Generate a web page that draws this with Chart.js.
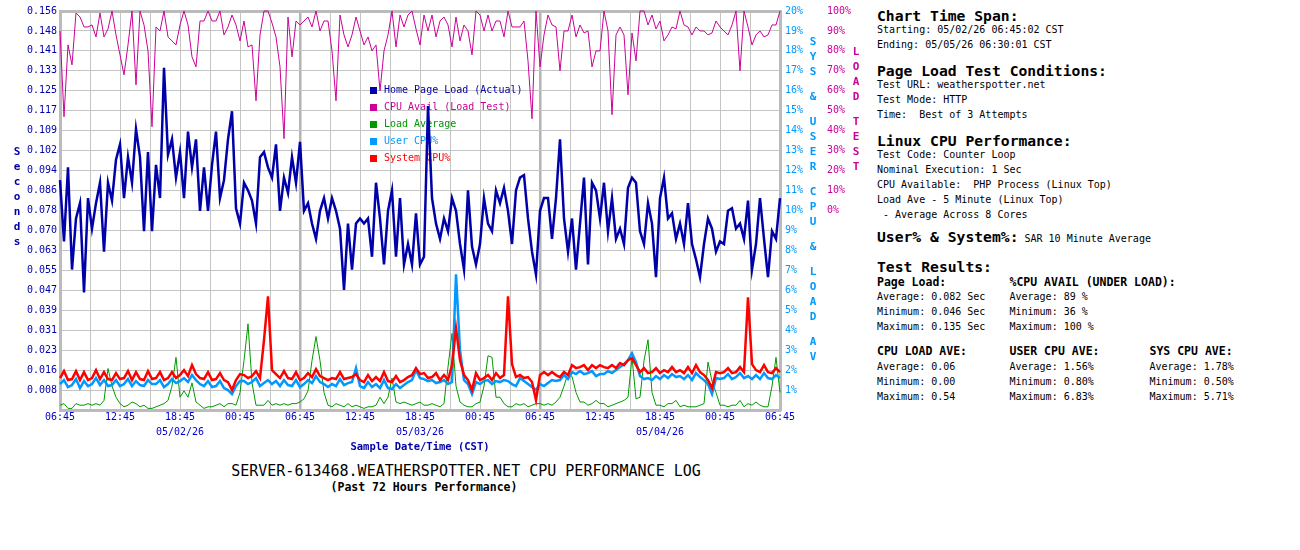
<!DOCTYPE html>
<html><head><meta charset="utf-8">
<script src="https://cdn.jsdelivr.net/npm/chart.js@4.4.1/dist/chart.umd.min.js"></script>
<style>
html,body{margin:0;padding:0;background:#fff;}
body{width:1300px;height:550px;position:relative;overflow:hidden;font-family:"DejaVu Sans Mono",monospace;}
#c{position:absolute;left:0;top:0;}
.t{position:absolute;white-space:pre;line-height:1;color:#000;}
.h{font-size:14.7px;font-weight:bold;}
.n{font-size:10px;font-weight:normal;}
.b{font-size:11.5px;font-weight:bold;}
.ttl{position:absolute;white-space:pre;line-height:1;text-align:center;width:700px;color:#000;}
</style></head><body>
<canvas id="c" width="870" height="460"></canvas>

<div class="t h" style="left:877px;top:9px">Chart Time Span:</div>
<div class="t n" style="left:877px;top:25px">Starting: 05/02/26 06:45:02 CST</div>
<div class="t n" style="left:877px;top:40px">Ending: 05/05/26 06:30:01 CST</div>
<div class="t h" style="left:877px;top:64px">Page Load Test Conditions:</div>
<div class="t n" style="left:877px;top:80px">Test URL: weatherspotter.net</div>
<div class="t n" style="left:877px;top:95px">Test Mode: HTTP</div>
<div class="t n" style="left:877px;top:110px">Time:  Best of 3 Attempts</div>
<div class="t h" style="left:877px;top:134px">Linux CPU Performance:</div>
<div class="t n" style="left:877px;top:150px">Test Code: Counter Loop</div>
<div class="t n" style="left:877px;top:165px">Nominal Execution: 1 Sec</div>
<div class="t n" style="left:877px;top:180px">CPU Available:  PHP Process (Linux Top)</div>
<div class="t n" style="left:877px;top:195px">Load Ave - 5 Minute (Linux Top)</div>
<div class="t n" style="left:877px;top:210px"> - Average Across 8 Cores</div>
<div class="t h" style="left:877px;top:230px">User% &amp; System%:<span class="n"> SAR 10 Minute Average</span></div>
<div class="t h" style="left:877px;top:260px">Test Results:</div>
<div class="t b" style="left:877px;top:276.5px">Page Load:</div>
<div class="t b" style="left:1009.5px;top:276.5px">%CPU AVAIL (UNDER LOAD):</div>
<div class="t n" style="left:877px;top:292px">Average: 0.082 Sec</div>
<div class="t n" style="left:877px;top:307px">Minimum: 0.046 Sec</div>
<div class="t n" style="left:877px;top:322px">Maximum: 0.135 Sec</div>
<div class="t n" style="left:1009.5px;top:292px">Average: 89 %</div>
<div class="t n" style="left:1009.5px;top:307px">Minimum: 36 %</div>
<div class="t n" style="left:1009.5px;top:322px">Maximum: 100 %</div>
<div class="t b" style="left:877px;top:345.5px">CPU LOAD AVE:</div>
<div class="t b" style="left:1009.5px;top:345.5px">USER CPU AVE:</div>
<div class="t b" style="left:1149.5px;top:345.5px">SYS CPU AVE:</div>
<div class="t n" style="left:877px;top:362px">Average: 0.06</div>
<div class="t n" style="left:877px;top:377px">Minimum: 0.00</div>
<div class="t n" style="left:877px;top:392px">Maximum: 0.54</div>
<div class="t n" style="left:1009.5px;top:362px">Average: 1.56%</div>
<div class="t n" style="left:1009.5px;top:377px">Minimum: 0.80%</div>
<div class="t n" style="left:1009.5px;top:392px">Maximum: 6.83%</div>
<div class="t n" style="left:1149.5px;top:362px">Average: 1.78%</div>
<div class="t n" style="left:1149.5px;top:377px">Minimum: 0.50%</div>
<div class="t n" style="left:1149.5px;top:392px">Maximum: 5.71%</div>

<div class="ttl" style="left:116px;top:463.5px;font-size:15px;">SERVER-613468.WEATHERSPOTTER.NET CPU PERFORMANCE LOG</div>
<div class="ttl" style="left:74px;top:481.5px;font-size:11.5px;font-weight:bold;">(Past 72 Hours Performance)</div>

<script>
// ---- data ----
const sampleStepHours = 0.4; // one sample every 24 minutes, 72 hours total

const timeTicks = ['06:45','12:45','18:45','00:45','06:45','12:45','18:45','00:45','06:45','12:45','18:45','00:45','06:45'];
const dateTicks = ['','','05/02/26','','','','05/03/26','','','','05/04/26','',''];
const secondsTickLabels = ['','0.008','0.016','0.023','0.031','0.039','0.047','0.055','0.063','0.070','0.078','0.086','0.094','0.102','0.109','0.117','0.125','0.133','0.141','0.148','0.156'];
const pctTickLabels = ['','1%','2%','3%','4%','5%','6%','7%','8%','9%','10%','11%','12%','13%','14%','15%','16%','17%','18%','19%','20%'];
const availTickLabels = ['0%','10%','20%','30%','40%','50%','60%','70%','80%','90%','100%'];

const pageLoad = [
0.090,0.066,0.095,0.055,0.075,0.081,0.046,0.083,0.071,0.081,
0.089,0.062,0.089,0.082,0.098,0.104,0.083,0.099,0.089,0.110,
0.099,0.070,0.101,0.070,0.096,0.083,0.134,0.100,0.106,0.091,
0.101,0.083,0.109,0.095,0.106,0.078,0.095,0.078,0.096,0.109,
0.083,0.090,0.106,0.117,0.079,0.073,
0.089,0.086,0.082,0.073,0.099,0.101,0.095,0.091,0.104,0.078,
0.091,0.085,0.099,0.089,0.105,0.078,0.081,0.073,0.067,0.078,
0.083,0.075,0.083,0.078,0.071,0.047,0.073,0.055,0.073,0.075,
0.073,0.075,0.060,0.089,0.075,0.057,0.078,0.086,0.060,0.083,
0.057,0.065,0.057,0.077,0.057,
0.060,0.119,0.083,0.073,0.067,0.075,0.070,0.083,0.078,0.065,
0.055,0.086,0.064,0.057,0.065,0.083,0.073,0.070,0.086,0.081,
0.087,0.078,0.065,0.086,0.091,0.092,0.075,0.062,0.053,0.078,
0.083,0.083,0.067,0.083,0.106,0.075,0.062,0.075,0.055,0.073,
0.091,0.057,0.089,0.086,0.075,
0.089,0.070,0.083,0.067,0.071,0.065,0.087,0.091,0.089,0.070,
0.065,0.081,0.073,0.052,0.083,0.091,0.075,0.077,0.067,0.073,
0.065,0.081,0.065,0.059,0.052,0.065,0.075,0.071,0.062,0.066,
0.065,0.078,0.079,0.071,0.073,0.067,0.082,0.055,0.065,0.083,
0.067,0.052,0.070,0.067,0.083];

const cpuAvail = [
90,47,83,73,99,97,92,92,93,87,
99,87,91,100,88,78,68,83,100,63,
100,93,80,42,92,90,100,87,85,83,
93,100,93,77,72,95,95,100,95,95,
100,88,92,98,93,85,
95,82,83,55,88,100,100,94,87,72,
36,97,77,95,93,95,97,92,100,90,
95,95,80,55,98,88,82,88,97,90,
83,87,80,83,60,80,88,100,82,98,
92,98,100,91,83,
98,90,98,87,95,97,93,82,97,85,
93,90,78,100,98,90,98,90,95,95,
87,100,92,92,92,95,75,46,100,72,
88,98,93,92,70,90,90,98,87,93,
89,90,72,80,80,
100,90,48,88,92,88,58,89,75,100,
100,93,98,91,95,85,88,92,91,100,
93,92,88,92,90,90,88,89,95,92,
90,88,93,100,70,100,92,83,88,90,
87,88,93,93,100];

const loadAvg = [
0.03,0.04,0.01,0.01,0.04,0.03,0.03,0.04,0.03,0.04,
0.03,0.06,0.26,0.15,0.08,0.04,0.02,0.03,0.05,0.04,
0.02,0.03,0.01,0.01,0.02,0.03,0.04,0.06,0.15,0.33,
0.08,0.12,0.08,0.17,0.05,0.03,0.01,0.02,0.02,0.03,
0.04,0.02,0.04,0.04,0.03,0.11,
0.31,0.54,0.17,0.03,0.03,0.03,0.06,0.03,0.04,0.03,
0.04,0.03,0.04,0.04,0.05,0.07,0.12,0.31,0.46,0.31,
0.11,0.03,0.02,0.04,0.03,0.02,0.04,0.02,0.03,0.02,
0.01,0.02,0.02,0.03,0.08,0.04,0.08,0.20,0.05,0.04,
0.05,0.04,0.03,0.04,0.05,
0.03,0.03,0.04,0.03,0.02,0.04,0.27,0.48,0.15,0.05,
0.03,0.02,0.02,0.04,0.05,0.15,0.34,0.33,0.08,0.08,
0.04,0.02,0.02,0.04,0.03,0.04,0.02,0.03,0.04,0.04,
0.03,0.04,0.03,0.05,0.08,0.15,0.23,0.21,0.11,0.05,
0.05,0.03,0.04,0.06,0.04,
0.04,0.02,0.03,0.04,0.05,0.06,0.08,0.33,0.07,0.08,
0.31,0.44,0.11,0.03,0.03,0.02,0.04,0.04,0.06,0.02,
0.03,0.02,0.02,0.02,0.03,0.04,0.30,0.18,0.11,0.03,
0.03,0.02,0.03,0.03,0.06,0.02,0.04,0.03,0.05,0.03,
0.02,0.02,0.15,0.33,0.11];

const userCpu = [
1.3,1.5,1.15,1.25,1.55,1.1,1.45,1.2,1.3,1.6,
1.25,1.5,1.2,1.25,1.5,1.2,1.3,1.55,1.2,1.45,
1.25,1.2,1.5,1.3,1.3,1.5,1.15,1.3,1.55,1.35,
1.45,1.6,1.4,1.75,1.5,1.3,1.2,1.45,1.15,1.2,
1.45,1.1,1.0,0.8,1.2,1.45,
1.45,1.3,1.4,1.6,1.2,1.35,1.5,1.3,1.45,1.2,
1.5,1.25,1.2,1.5,1.15,1.3,1.5,1.35,1.7,1.4,
1.3,1.15,1.3,1.2,1.55,1.25,1.35,1.4,2.1,1.2,
1.1,1.4,1.15,1.3,1.1,1.5,1.1,1.05,1.3,1.1,
1.25,1.4,1.5,2.0,1.6,
1.55,1.45,1.5,1.35,1.4,1.5,1.3,1.4,6.8,3.0,
1.5,1.3,0.8,1.4,1.3,1.45,1.5,1.3,1.45,1.4,
1.5,1.45,1.3,1.2,1.6,1.45,1.3,1.15,1.0,1.3,
1.2,1.35,1.5,1.45,1.5,1.75,1.55,1.9,1.8,1.95,
1.8,1.85,1.95,1.7,1.8,
1.8,1.95,1.85,2.0,2.15,2.3,2.5,2.85,2.4,1.7,
1.55,1.6,1.5,1.7,1.55,1.75,1.6,1.8,1.65,1.7,
1.55,1.75,1.5,1.85,1.65,1.5,1.3,0.8,1.6,1.55,
1.6,1.8,1.55,1.65,1.85,1.6,1.7,1.55,1.75,1.55,
1.85,1.6,1.55,1.75,1.6];

const sysCpu = [
1.6,1.95,1.5,1.55,1.95,1.5,1.9,1.5,1.6,2.0,
1.55,1.9,1.55,1.5,1.85,1.55,1.6,1.95,1.5,1.9,
1.55,1.5,1.95,1.55,1.6,1.9,1.5,1.6,1.9,1.6,
1.75,2.0,1.7,2.25,1.8,1.6,1.55,1.9,1.5,1.55,
1.85,1.5,1.4,1.0,1.5,1.8,
1.75,1.6,1.7,1.95,1.6,3.5,5.7,2.0,1.8,1.6,
1.95,1.6,1.55,1.9,1.5,1.6,1.85,1.65,2.05,1.7,
1.6,1.5,1.6,1.55,1.9,1.55,1.6,1.65,1.8,1.5,
1.4,1.75,1.45,1.65,1.45,1.9,1.45,1.4,1.7,1.4,
1.5,1.65,1.75,2.1,1.8,
1.85,1.6,1.65,1.85,1.5,1.75,1.5,2.25,4.1,2.5,
1.75,1.5,1.0,1.85,1.5,1.6,1.75,1.5,1.85,1.6,
1.75,5.7,2.3,1.65,1.75,1.6,1.65,1.4,0.5,1.75,
1.9,1.75,1.9,1.75,1.65,1.9,1.75,2.25,2.1,2.15,
2.25,2.0,2.25,2.1,2.25,
2.15,2.1,2.25,2.1,2.35,2.25,2.5,2.6,2.25,1.9,
2.1,1.85,1.9,2.1,1.85,2.0,1.9,2.15,1.9,2.0,
1.85,2.15,1.85,2.25,1.9,1.75,1.5,1.1,1.9,1.85,
1.9,2.1,1.85,1.9,2.15,1.9,5.65,2.3,2.0,1.9,
2.25,1.9,1.85,2.1,1.9];

// ---- chart ----
const FONT = '"DejaVu Sans Mono", monospace';
Chart.defaults.font.family = FONT;
const toPoints = arr => arr.map((v, i) => ({x: i * sampleStepHours, y: v}));

const stackedLabels = {
  id: 'stackedLabels',
  afterDraw(chart) {
    const ctx = chart.ctx;
    ctx.save();
    ctx.font = 'bold 11px ' + FONT;
    ctx.textAlign = 'center';
    ctx.textBaseline = 'middle';
    const col = (text, x, y0, color) => {
      ctx.fillStyle = color;
      let y = y0;
      for (const ch of text) {
        if (ch === ' ') { y += 10; continue; }
        ctx.fillText(ch, x, y);
        y += 15;
      }
    };
    col('Seconds', 17, 152, '#0000aa');
    col('SYS & USER CPU & LOAD AV', 813, 42, '#0099ff');
    col('LOAD TEST', 856, 52, '#cc0099');
    ctx.restore();
  }
};

const boxLegend = {
  id: 'boxLegend',
  beforeDatasetsDraw(chart) {
    const ctx = chart.ctx;
    ctx.save();
    ctx.font = '10px ' + FONT;
    ctx.textBaseline = 'middle';
    ctx.textAlign = 'left';
    chart.data.datasets.forEach((ds, i) => {
      const y = 90.5 + i * 17.1;
      ctx.fillStyle = ds.borderColor;
      ctx.fillRect(370, Math.round(y - 3.5), 7, 7);
      ctx.fillText(ds.label, 384, y);
    });
    ctx.restore();
  }
};

new Chart(document.getElementById('c'), {
  type: 'line',
  data: {
    datasets: [
      {label: 'Home Page Load (Actual)', data: toPoints(pageLoad), yAxisID: 'y', borderColor: '#0000aa', borderWidth: 2.5, order: 0},
      {label: 'CPU Avail (Load Test)', data: toPoints(cpuAvail), yAxisID: 'yAvail', borderColor: '#cc0099', borderWidth: 1, order: 4},
      {label: 'Load Average', data: toPoints(loadAvg), yAxisID: 'yLoad', borderColor: '#009900', borderWidth: 1, order: 3},
      {label: 'User CPU%', data: toPoints(userCpu), yAxisID: 'yPct', borderColor: '#0099ff', borderWidth: 2.5, order: 2},
      {label: 'System CPU%', data: toPoints(sysCpu), yAxisID: 'yPct', borderColor: '#ff0000', borderWidth: 2.5, order: 1}
    ]
  },
  options: {
    responsive: false,
    animation: false,
    devicePixelRatio: 1,
    layout: {padding: {top: 10, left: 0, right: 0, bottom: 6}},
    elements: {point: {radius: 0}, line: {tension: 0, borderJoinStyle: 'miter'}},
    datasets: {line: {clip: 2}},
    plugins: {legend: {display: false}, tooltip: {enabled: false}},
    scales: {
      x: {
        type: 'linear', min: 0, max: 72,
        afterFit: s => { s.height = 44; },
        grid: {
          drawTicks: false,
          color: ctx => (ctx.tick && (ctx.tick.value === 24 || ctx.tick.value === 48)) ? '#b4b4b4' : '#c4c4c4',
          lineWidth: ctx => (ctx.tick && (ctx.tick.value === 24 || ctx.tick.value === 48)) ? 2.5 : 1
        },
        border: {display: true, color: '#bbbbbb', width: 3},
        ticks: {
          stepSize: 3, autoSkip: false, maxRotation: 0, minRotation: 0, padding: 0,
          color: '#0000cc', font: {size: 10, lineHeight: 1.5},
          callback: v => {
            if (v % 6 !== 0) return '';
            const k = v / 6;
            return dateTicks[k] ? [timeTicks[k], dateTicks[k]] : timeTicks[k];
          }
        },
        title: {display: true, text: 'Sample Date/Time (CST)', color: '#0000aa', font: {size: 10.5, weight: 'bold', lineHeight: 1.2}, padding: {top: 0, bottom: 0}}
      },
      y: {
        position: 'left', min: 0, max: 0.15625,
        afterFit: s => { s.width = 60; },
        grid: {
          drawTicks: false,
          color: ctx => ctx.index === 20 ? '#bbbbbb' : '#c4c4c4',
          lineWidth: ctx => ctx.index === 20 ? 3 : 1
        },
        border: {display: true, color: '#bbbbbb', width: 3},
        ticks: {stepSize: 0.0078125, padding: 3, color: '#0000aa', font: {size: 10},
          callback: (v, i) => secondsTickLabels[i] || ''}
      },
      yPct: {
        position: 'right', weight: 0, min: 0, max: 20,
        afterFit: s => { s.width = 46; },
        grid: {display: false, drawTicks: false},
        border: {display: true, color: '#bbbbbb', width: 3},
        ticks: {stepSize: 1, padding: 5, color: '#0099ff', font: {size: 10},
          callback: (v, i) => pctTickLabels[i] || ''}
      },
      yAvail: {
        position: 'right', weight: 1, min: -100, max: 100,
        afterFit: s => { s.width = 44; },
        grid: {display: false, drawTicks: false},
        border: {display: false},
        ticks: {stepSize: 10, padding: 1, color: '#cc0099', font: {size: 10},
          callback: (v, i) => i >= 10 ? (availTickLabels[i - 10] || '') : ''}
      },
      yLoad: {display: false, min: 0, max: 2.5}
    }
  },
  plugins: [boxLegend, stackedLabels]
});
</script>
</body></html>
